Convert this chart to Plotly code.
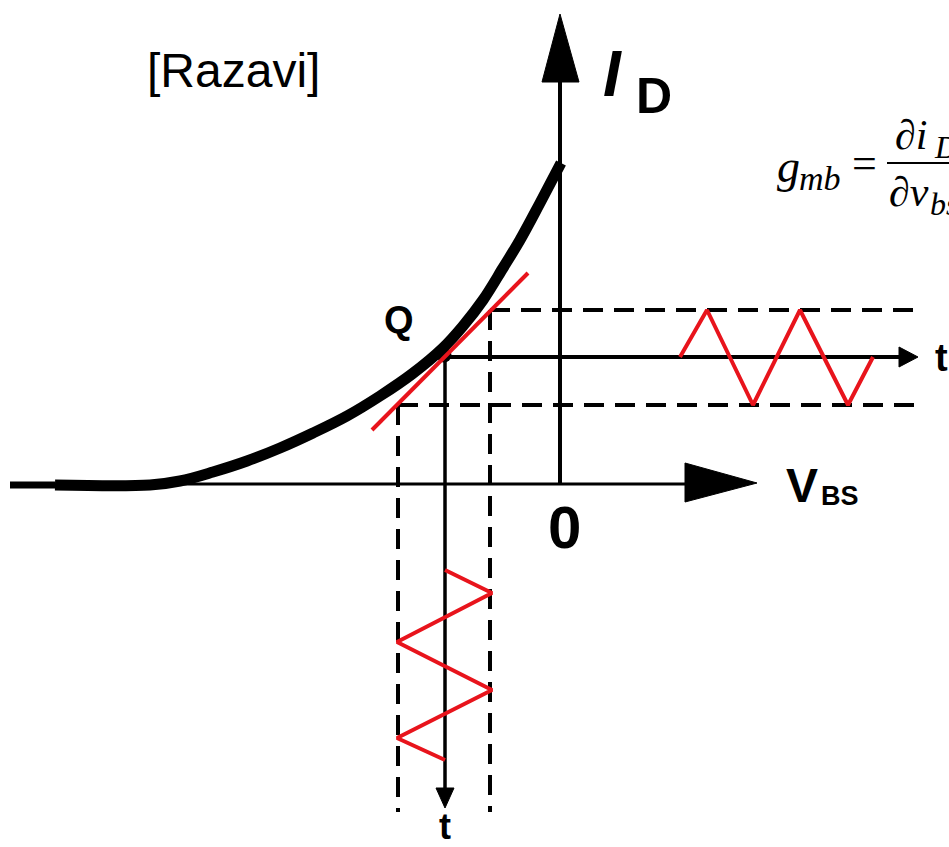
import plotly.graph_objects as go

# Diagram drawn in a pixel-like coordinate frame (x right, y down)
W, H = 949, 847

# I_D vs V_BS characteristic (thick black curve)
curve_x = [10, 55, 150, 180, 213, 247, 280, 313, 347, 380, 412, 443, 463, 483, 503, 520, 540, 561]
curve_y = [485, 485, 485, 481, 472, 461, 448, 433, 416, 396, 374, 348, 326, 300, 268, 240, 203, 163]

# Tangent at the operating point Q
tangent_x = [372, 528]
tangent_y = [430, 273]

# Operating point Q
q_x, q_y = 444, 355

# Small-signal waveforms
wave_t_x = [680, 707, 753, 800, 848, 873]   # along the horizontal t axis
wave_t_y = [357, 310, 405, 310, 405, 357]
wave_v_x = [445, 492, 397, 492, 397, 445]   # along the vertical t axis
wave_v_y = [570, 593, 642, 690, 738, 760]

# Axes
vbs_axis_x = [10, 690]
vbs_axis_y = [484, 484]
id_axis_x = [560, 560]
id_axis_y = [484, 80]
t_h_x = [q_x, 902]
t_h_y = [357, 357]
t_v_x = [445, 445]
t_v_y = [q_y, 792]

# Dashed projection lines
dash_upper_x, dash_upper_y = [490, 920], [310, 310]
dash_lower_x, dash_lower_y = [398, 920], [405, 405]
dash_left_x, dash_left_y = [398, 398], [405, 812]
dash_right_x, dash_right_y = [490, 490], [310, 812]

# Arrowheads (filled triangles)
arrows = [
    ([560, 542, 579], [14, 82, 82]),        # I_D axis
    ([757, 685, 685], [483, 463, 502]),     # V_BS axis
    ([918, 899, 899], [357, 347, 367]),     # horizontal t axis
    ([445, 436, 454], [808, 788, 788]),     # vertical t axis
]

fig = go.Figure()

def line(xs, ys, color="black", width=3, dash=None):
    fig.add_trace(go.Scatter(
        x=xs, y=ys, mode="lines",
        line=dict(color=color, width=width, dash=dash),
        hoverinfo="skip", showlegend=False,
    ))

dash_style = "20px,11px"
line(dash_upper_x, dash_upper_y, width=4, dash=dash_style)
line(dash_lower_x, dash_lower_y, width=4, dash=dash_style)
line(dash_left_x, dash_left_y, width=4, dash=dash_style)
line(dash_right_x, dash_right_y, width=4, dash=dash_style)

line(vbs_axis_x, vbs_axis_y, width=3)
line(id_axis_x, id_axis_y, width=4)
line(t_h_x, t_h_y, width=4)
line(t_v_x, t_v_y, width=3.5)

for ax_, ay_ in arrows:
    fig.add_trace(go.Scatter(
        x=ax_ + [ax_[0]], y=ay_ + [ay_[0]], mode="lines", fill="toself",
        fillcolor="black", line=dict(color="black", width=1),
        hoverinfo="skip", showlegend=False,
    ))

# Thin lead-in of the curve, then the thick characteristic
line(curve_x[:2], curve_y[:2], width=7)
fig.add_trace(go.Scatter(
    x=curve_x[1:], y=curve_y[1:], mode="lines",
    line=dict(color="black", width=11, shape="spline", smoothing=1.0),
    hoverinfo="skip", showlegend=False,
))

# Operating point marker
fig.add_trace(go.Scatter(
    x=[q_x], y=[q_y], mode="markers",
    marker=dict(color="black", size=15),
    hoverinfo="skip", showlegend=False,
))

red = "#e8141c"
line(tangent_x, tangent_y, color=red, width=4)
line(wave_t_x, wave_t_y, color=red, width=4)
line(wave_v_x, wave_v_y, color=red, width=4)

def text(x, y, s, size, family="Liberation Sans", xanchor="center", yanchor="middle", color="black"):
    fig.add_annotation(
        x=x, y=y, text=s, showarrow=False, xanchor=xanchor, yanchor=yanchor,
        font=dict(family=family, size=size, color=color),
    )

sans = "Liberation Sans"
serif = "Liberation Serif"

text(233, 70, "[Razavi]", 48, family=sans)
text(612, 74, "<b><i>I</i></b>", 64, family=sans)
text(654, 96, "<b>D</b>", 50, family=sans)
text(399, 320, "<b>Q</b>", 38, family=sans)
text(802, 485, "<b>V</b>", 48, family=sans)
text(840, 496, "<b>BS</b>", 27, family=sans)
text(564, 527, "<b>0</b>", 60, family=sans)
text(941, 358, "<b>t</b>", 38, family=sans)
text(445, 826, "<b>t</b>", 36, family=sans)

# Body-effect transconductance definition
text(775, 166, "<i>g</i>", 46, family=serif, xanchor="left")
text(797, 178, "<i>mb</i>", 34, family=serif, xanchor="left")
text(850, 163, "=", 44, family=serif, xanchor="left")
line([887, 960], [163, 163], width=2)
text(893, 135, "∂<i>i</i>", 42, family=serif, xanchor="left")
text(932, 147, "<i>D</i>", 32, family=serif, xanchor="left")
text(887, 192, "∂<i>v</i>", 42, family=serif, xanchor="left")
text(928, 204, "<i>bs</i>", 32, family=serif, xanchor="left")

fig.update_layout(
    width=W, height=H,
    margin=dict(l=0, r=0, t=0, b=0),
    paper_bgcolor="white", plot_bgcolor="white",
    xaxis=dict(range=[0, W], visible=False, fixedrange=True),
    yaxis=dict(range=[H, 0], visible=False, fixedrange=True),
)

fig.write_html("out.html")
